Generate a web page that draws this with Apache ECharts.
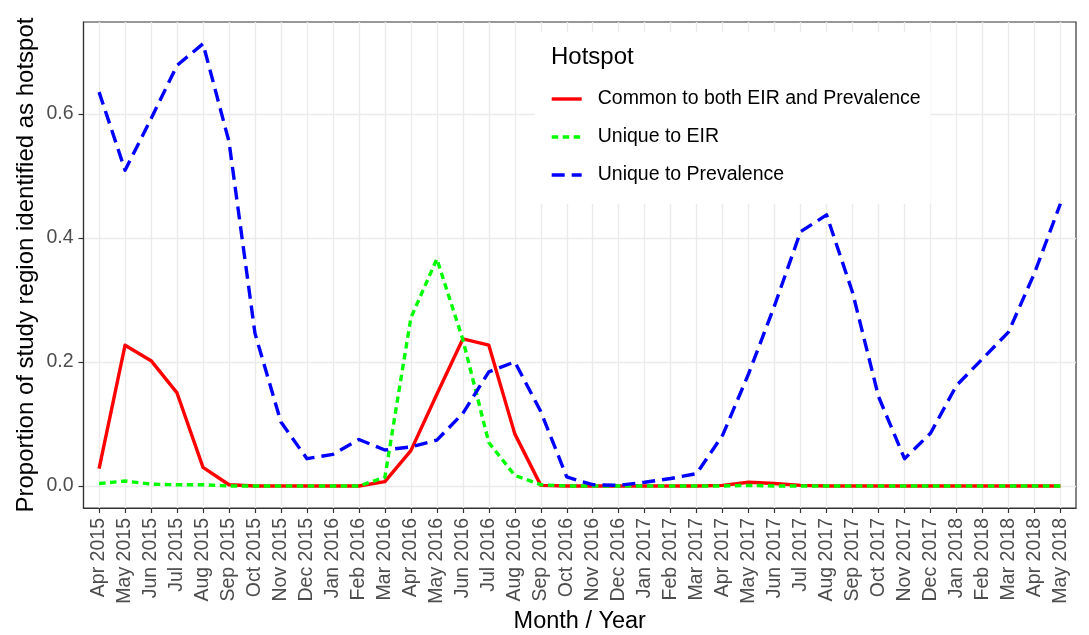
<!DOCTYPE html>
<html>
<head>
<meta charset="utf-8">
<script src="https://cdn.jsdelivr.net/npm/echarts@6/dist/echarts.min.js"></script>
<style>
html,body{margin:0;padding:0;background:#fff;}
#chart{width:1089px;height:635px;}
</style>
</head>
<body>
<div id="chart"></div>
<script>
const months = ['Apr 2015','May 2015','Jun 2015','Jul 2015','Aug 2015','Sep 2015','Oct 2015','Nov 2015','Dec 2015',
  'Jan 2016','Feb 2016','Mar 2016','Apr 2016','May 2016','Jun 2016','Jul 2016','Aug 2016','Sep 2016','Oct 2016','Nov 2016','Dec 2016',
  'Jan 2017','Feb 2017','Mar 2017','Apr 2017','May 2017','Jun 2017','Jul 2017','Aug 2017','Sep 2017','Oct 2017','Nov 2017','Dec 2017',
  'Jan 2018','Feb 2018','Mar 2018','Apr 2018','May 2018'];

const commonBoth = [0.028,0.227,0.202,0.150,0.030,0.002,0,0,0,0,0,0.007,0.057,0.148,0.237,0.227,0.084,0.001,0,0,0,
  0,0,0,0.001,0.006,0.004,0.001,0,0,0,0,0,0,0,0,0,0];

const uniqueEIR = [0.004,0.008,0.003,0.002,0.002,0,0,0,0,0,0,0.014,0.271,0.366,0.236,0.070,0.017,0.002,0,0,0,
  0,0,0,0,0.001,0,0,0,0,0,0,0,0,0,0,0,0];

const uniquePrev = [0.635,0.509,0.592,0.678,0.713,0.555,0.246,0.103,0.044,0.051,0.075,0.058,0.063,0.074,0.117,0.184,0.200,0.120,0.0145,0.002,0.001,
  0.006,0.012,0.020,0.082,0.181,0.291,0.410,0.437,0.312,0.144,0.044,0.085,0.162,0.205,0.248,0.343,0.455];

const seriesNames = ['Common to both EIR and Prevalence','Unique to EIR','Unique to Prevalence'];
const yTickValues = [0, 0.2, 0.4, 0.6];
const xTitle = 'Month / Year';
const yTitle = 'Proportion of study region identified as hotspot';
const legendTitle = 'Hotspot';

const FONT = 'Liberation Sans, Arial, Helvetica, sans-serif';
const xIdx = months.map((m, i) => i);
const toPairs = arr => arr.map((v, i) => [i, v]);

const chart = echarts.init(document.getElementById('chart'), null, {renderer: 'canvas'});
chart.setOption({
  animation: false,
  backgroundColor: '#ffffff',
  title: {
    text: legendTitle,
    left: 546, top: 40, z: 10,
    textStyle: {fontFamily: FONT, fontSize: 24, fontWeight: 'normal', color: '#000'}
  },
  legend: {
    orient: 'vertical',
    left: 535, top: 32,
    padding: [57, 10, 19, 15],
    backgroundColor: '#ffffff',
    itemWidth: 30, itemHeight: 20, itemGap: 18,
    data: seriesNames,
    itemStyle: {opacity: 0},
    lineStyle: {width: 3.4},
    textStyle: {fontFamily: FONT, fontSize: 19.5, color: '#000', padding: [0, 0, 0, 11]}
  },
  grid: {
    left: 83.5, right: 13, top: 22, bottom: 127,
    outerBoundsMode: 'none',
    containLabel: false,
    show: true, borderColor: '#333333', borderWidth: 1.2, backgroundColor: 'transparent'
  },
  xAxis: {
    type: 'value',
    min: -0.6, max: 37.6,
    splitNumber: 38,
    name: xTitle,
    nameLocation: 'middle',
    nameGap: 102,
    nameMoveOverlap: false,
    nameTextStyle: {fontFamily: FONT, fontSize: 23.5, color: '#000', verticalAlign: 'top'},
    axisLine: {show: true, onZero: false, lineStyle: {color: '#333333', width: 1.2}},
    axisTick: {show: true, length: 5, inside: false, customValues: xIdx, lineStyle: {color: '#333333', width: 1.2}},
    axisLabel: {
      customValues: xIdx,
      rotate: 90, margin: 10,
      fontFamily: FONT, fontSize: 19.5, color: '#4D4D4D',
      formatter: v => months[Math.round(v)] || ''
    },
    splitLine: {show: true, lineStyle: {color: '#EBEBEB', width: 1.4}}
  },
  yAxis: {
    type: 'value',
    min: -0.0355, max: 0.748,
    splitNumber: 8,
    name: yTitle,
    nameLocation: 'middle',
    nameGap: 45,
    nameRotate: 90,
    nameMoveOverlap: false,
    nameTextStyle: {fontFamily: FONT, fontSize: 24, color: '#000'},
    axisLine: {show: true, onZero: false, lineStyle: {color: '#333333', width: 1.2}},
    axisTick: {show: true, length: 5, inside: false, customValues: yTickValues, lineStyle: {color: '#333333', width: 1.2}},
    axisLabel: {
      customValues: yTickValues,
      margin: 10,
      fontFamily: FONT, fontSize: 19.5, color: '#4D4D4D',
      formatter: v => v.toFixed(1)
    },
    splitLine: {show: true, lineStyle: {color: '#EBEBEB', width: 1.4}}
  },
  series: [
    {
      name: seriesNames[0], type: 'line', data: toPairs(commonBoth),
      symbol: 'none', z: 3,
      lineStyle: {color: '#FF0000', width: 3.4, type: 'solid', cap: 'butt', join: 'round'},
      itemStyle: {color: '#FF0000'}
    },
    {
      name: seriesNames[1], type: 'line', data: toPairs(uniqueEIR),
      symbol: 'none', z: 4,
      lineStyle: {color: '#00FF00', width: 3.4, type: [6.5, 4.5], cap: 'butt', join: 'round'},
      itemStyle: {color: '#00FF00'}
    },
    {
      name: seriesNames[2], type: 'line', data: toPairs(uniquePrev),
      symbol: 'none', z: 5,
      lineStyle: {color: '#0000FF', width: 3.4, type: [13, 7], cap: 'butt', join: 'round'},
      itemStyle: {color: '#0000FF'}
    }
  ]
});
</script>
</body>
</html>
